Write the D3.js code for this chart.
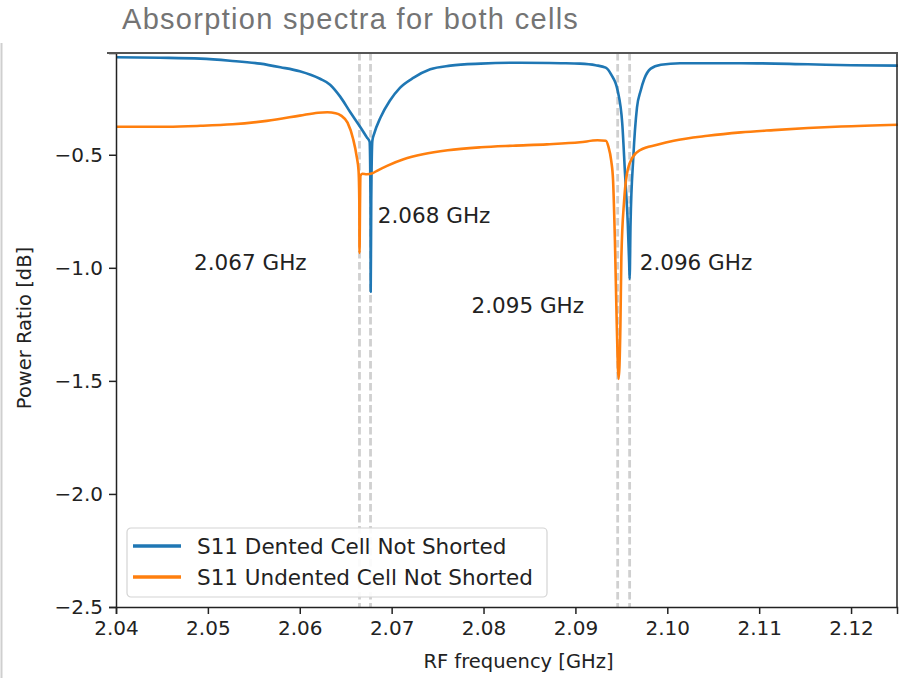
<!DOCTYPE html>
<html>
<head>
<meta charset="utf-8">
<script src="https://cdn.jsdelivr.net/npm/d3@7"></script>
<style>
body { margin: 0; background: #fff; }
text { font-family: "DejaVu Sans", sans-serif; }
</style>
</head>
<body>
<div id="chart"></div>
<script>
// dented cell (blue)
var dentedFreq = [2.0400, 2.0448, 2.0492, 2.0524, 2.0557, 2.0579, 2.0600, 2.0622, 2.0633, 2.0644,
	2.0655, 2.0666, 2.0673, 2.0676, 2.06770, 2.06772, 2.06778, 2.0679, 2.0681, 2.0688,
	2.0698, 2.0709, 2.0724, 2.0742, 2.0764, 2.0797, 2.0840, 2.0884, 2.0905, 2.0922,
	2.0933, 2.0939, 2.0946, 2.0951, 2.0954, 2.0957, 2.09585, 2.09590, 2.0960, 2.0963,
	2.0967, 2.0971, 2.0975, 2.0982, 2.0993, 2.1014, 2.1080, 2.1153, 2.1200, 2.1251];
var dentedDb = [-0.069, -0.071, -0.075, -0.084, -0.097, -0.113, -0.131, -0.164, -0.190, -0.243,
	-0.312, -0.378, -0.423, -0.442, -0.704, -1.106, -0.704, -0.438, -0.407, -0.334,
	-0.261, -0.204, -0.159, -0.122, -0.106, -0.097, -0.093, -0.095, -0.097, -0.104,
	-0.115, -0.146, -0.217, -0.363, -0.584, -0.805, -0.978, -1.049, -0.805, -0.513,
	-0.292, -0.217, -0.164, -0.119, -0.102, -0.095, -0.095, -0.100, -0.104, -0.106];

// undented cell (orange)
var undentedFreq = [2.0400, 2.0456, 2.0492, 2.0527, 2.0564, 2.0600, 2.0620, 2.0630, 2.0639, 2.0645,
	2.0652, 2.0658, 2.0662, 2.0664, 2.06648, 2.06650, 2.06656, 2.0666, 2.0668, 2.0673,
	2.0679, 2.0684, 2.0695, 2.0713, 2.0734, 2.0761, 2.0797, 2.0832, 2.0869, 2.0905,
	2.0924, 2.0933, 2.0936, 2.0939, 2.0941, 2.0943, 2.0945, 2.0947, 2.0949, 2.0950,
	2.0953, 2.0956, 2.0962, 2.0971, 2.0989, 2.1007, 2.1044, 2.1080, 2.1116, 2.1153,
	2.1189, 2.1251];
var undentedDb = [-0.376, -0.376, -0.372, -0.365, -0.350, -0.327, -0.314, -0.312, -0.316, -0.327,
	-0.358, -0.429, -0.509, -0.571, -0.704, -0.934, -0.704, -0.593, -0.584, -0.586,
	-0.582, -0.571, -0.549, -0.520, -0.498, -0.480, -0.467, -0.460, -0.454, -0.445,
	-0.436, -0.438, -0.465, -0.527, -0.615, -0.881, -1.248, -1.491, -1.248, -0.956,
	-0.704, -0.586, -0.513, -0.478, -0.456, -0.438, -0.416, -0.401, -0.391, -0.382,
	-0.375, -0.367];

// resonances and their labels
var resonances = [2.0665, 2.0677, 2.0946, 2.0959];
var labelText = ["2.067 GHz", "2.068 GHz", "2.095 GHz", "2.096 GHz"];
var labelX = [2.0485, 2.0685, 2.0787, 2.0970];
var labelY = [-0.978, -0.770, -1.168, -0.978];

var xTicks = [2.04, 2.05, 2.06, 2.07, 2.08, 2.09, 2.10, 2.11, 2.12];
var yTicks = [-0.5, -1.0, -1.5, -2.0, -2.5];
var seriesNames = ["S11 Dented Cell Not Shorted", "S11 Undented Cell Not Shorted"];
var seriesColors = ["#1f77b4", "#ff7f0e"];

var svgWidth = 918, svgHeight = 678;
var margin = {top: 53, right: 21, bottom: 71, left: 116};
var width = svgWidth - margin.left - margin.right;
var height = svgHeight - margin.top - margin.bottom;

var root = d3.select("#chart").append("svg")
	.attr("width", svgWidth)
	.attr("height", svgHeight);

// title and frame decorations of the screenshot
root.append("text")
	.attr("x", 122).attr("y", 29)
	.style("font-family", "'Liberation Sans', Arial, sans-serif")
	.style("font-size", "29px")
	.style("letter-spacing", "1.3px")
	.attr("fill", "#747474")
	.text("Absorption spectra for both cells");

root.append("line")
	.attr("x1", 1.5).attr("x2", 1.5)
	.attr("y1", 43).attr("y2", svgHeight)
	.attr("stroke", "#cfcfcf").attr("stroke-width", 2);

var svg = root.append("g")
	.attr("transform", "translate(" + margin.left + "," + margin.top + ")");

var x = d3.scaleLinear().domain([2.04, 2.125]).range([0, width]);
var y = d3.scaleLinear().domain([-2.5, -0.05]).range([height, 0]);

// dashed resonance markers
svg.selectAll(".res")
	.data(resonances)
	.enter().append("line")
	.attr("x1", function(d) { return x(d); })
	.attr("x2", function(d) { return x(d); })
	.attr("y1", 0).attr("y2", height)
	.attr("stroke", "#d0d0d0")
	.attr("stroke-width", 2.8)
	.attr("stroke-dasharray", "7.5,3.5");

var line = d3.line()
	.curve(d3.curveMonotoneX)
	.x(function(d) { return x(d[0]); })
	.y(function(d) { return y(d[1]); });

var series = [
	d3.zip(dentedFreq, dentedDb),
	d3.zip(undentedFreq, undentedDb)
];

svg.selectAll(".curve")
	.data(series)
	.enter().append("path")
	.attr("fill", "none")
	.attr("stroke", function(d, i) { return seriesColors[i]; })
	.attr("stroke-width", 2.6)
	.attr("stroke-linejoin", "round")
	.attr("d", line);

// annotations
svg.selectAll(".lbl")
	.data(labelText)
	.enter().append("text")
	.attr("x", function(d, i) { return x(labelX[i]); })
	.attr("y", function(d, i) { return y(labelY[i]); })
	.attr("dy", "0.35em")
	.style("font-size", "21.5px")
	.attr("fill", "#222")
	.text(function(d) { return d; });

// axes
var xAxis = svg.append("g")
	.attr("transform", "translate(0," + height + ")")
	.call(d3.axisBottom(x).tickValues(xTicks).tickFormat(d3.format(".2f")).tickSizeOuter(0).tickSize(7).tickPadding(7));

var yAxis = svg.append("g")
	.call(d3.axisLeft(y).tickValues(yTicks)
		.tickFormat(function(d) { return d3.format(".1f")(d).replace("-", "\u2212"); })
		.tickSizeOuter(0).tickSize(7).tickPadding(6));

[xAxis, yAxis].forEach(function(a) {
	a.selectAll("text").style("font-size", "20px").attr("fill", "#222")
		.style("font-family", "'DejaVu Sans', sans-serif");
	a.selectAll("line").attr("stroke", "#222").attr("stroke-width", 1.5);
	a.select(".domain").attr("stroke", "#222").attr("stroke-width", 1.5);
});

svg.append("line")
	.attr("x1", width).attr("x2", width)
	.attr("y1", 0).attr("y2", height)
	.attr("stroke", "#222").attr("stroke-width", 1.5);

// top border line of the screenshot frame
root.append("line")
	.attr("x1", 107).attr("x2", margin.left + width + 1)
	.attr("y1", margin.top).attr("y2", margin.top)
	.attr("stroke", "#555").attr("stroke-width", 2.2);

// axis labels
svg.append("text")
	.attr("x", width / 2 + 12).attr("y", height + 61)
	.attr("text-anchor", "middle")
	.style("font-size", "19.5px").attr("fill", "#222")
	.text("RF frequency [GHz]");

svg.append("text")
	.attr("transform", "translate(" + (-85) + "," + (height / 2 - 2) + ") rotate(-90)")
	.attr("text-anchor", "middle")
	.style("font-size", "19.5px").attr("fill", "#222")
	.text("Power Ratio [dB]");

// legend
var legend = svg.append("g").attr("transform", "translate(11," + (height - 79) + ")");
legend.append("rect")
	.attr("width", 420).attr("height", 69)
	.attr("rx", 4)
	.attr("fill", "#fff").attr("fill-opacity", 0.9)
	.attr("stroke", "#d4d4d4").attr("stroke-width", 1.2);

var item = legend.selectAll(".item")
	.data(seriesNames)
	.enter().append("g")
	.attr("transform", function(d, i) { return "translate(0," + (18 + i * 31) + ")"; });
item.append("line")
	.attr("x1", 6).attr("x2", 54)
	.attr("stroke", function(d, i) { return seriesColors[i]; })
	.attr("stroke-width", 3.5);
item.append("text")
	.attr("x", 70).attr("dy", "0.35em")
	.style("font-size", "21.5px").attr("fill", "#222")
	.text(function(d) { return d; });
</script>
</body>
</html>
